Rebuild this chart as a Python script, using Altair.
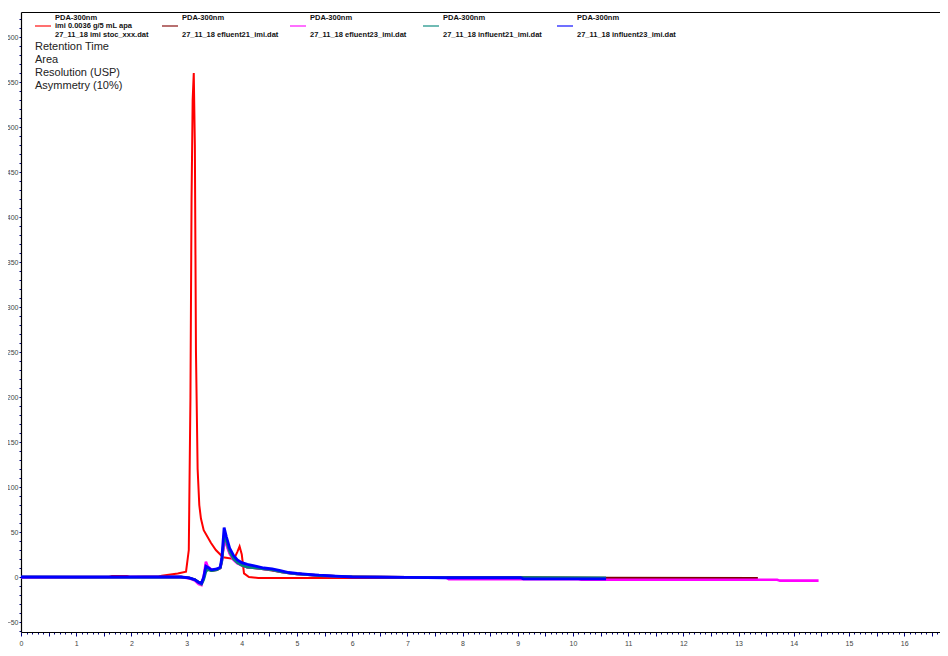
import altair as alt
import pandas as pd

SERIES = [
    "27_11_18 imi stoc_xxx.dat",
    "27_11_18 efluent21_imi.dat",
    "27_11_18 efluent23_imi.dat",
    "27_11_18 influent21_imi.dat",
    "27_11_18 influent23_imi.dat",
]
LEGEND_HEAD = ["PDA-300nm"] * 5
LEGEND_MID = ["imi 0.0036 g/5 mL apa", "", "", "", ""]
COLORS = ["#FF0000", "#800000", "#FF00FF", "#00877A", "#0000FF"]
WIDTHS = [2.0, 2.6, 2.6, 2.6, 2.8]

# red: imi stoc
stoc_t = [0, 1.0, 1.6, 1.65, 1.92, 1.97, 2.5, 2.55, 2.84, 2.99, 3.04, 3.07, 3.09, 3.11, 3.13,
          3.15, 3.17, 3.2, 3.23, 3.26, 3.31, 3.44, 3.53, 3.66, 3.86, 3.92, 3.96, 4.0, 4.04,
          4.13, 4.3, 8.0]
stoc_v = [0, 0, 0, 1, 1, 0, 0.5, 1.5, 4, 6, 30, 200, 420, 530, 560,
          480, 250, 120, 80, 65, 52, 38, 30, 22, 20, 28, 34, 25, 4,
          0, -1, -1]

# shared time points of the sample runs around the peak
peak_t = [0, 1.0, 2.0, 2.9, 3.05, 3.15, 3.22, 3.27, 3.31, 3.35, 3.38, 3.45, 3.55, 3.61, 3.64,
          3.68, 3.72, 3.78, 3.85, 3.92, 4.0, 4.1, 4.25, 4.4, 4.55, 4.7, 4.85, 5.0, 5.2, 5.4,
          5.7, 6.0, 7.0, 7.7]

eff21_v = [0, 0, 0, 0, -1, -3, -6, -7, -1, 10, 9, 7, 8, 10, 19,
           42, 38, 27, 20, 16, 13, 11, 10, 9, 7.5, 6, 4.5, 3.5, 2.5, 1.5,
           0.8, 0.3, -0.3, -0.5]
eff21_tail_t = [9.1, 10.6, 13.35]
eff21_tail_v = [-0.5, -1.2, -1.5]

eff23_v = [-0.5, -0.5, 0, 0, -1.5, -4, -8, -9, 0, 17, 12, 8, 9, 10, 18,
           40, 36, 26, 19, 15, 13, 11, 10, 9, 8, 6, 4.5, 3.5, 2.5, 1.5,
           0.8, 0.3, -0.3, -0.5]
eff23_tail_t = [7.75, 10.1, 10.15, 13.7, 13.75, 14.45]
eff23_tail_v = [-2.5, -2.5, -3, -3, -4, -4]

inf21_v = [0, -0.3, -0.3, 0, -1, -3, -6, -8, -3, 6, 8, 7, 8, 10, 18,
           46, 40, 28, 20, 16, 13, 11, 10, 9, 8, 6, 4.5, 3.5, 2.5, 1.5,
           0.8, 0.3, -0.3, -0.5]
inf21_tail_t = [9.1, 10.6]
inf21_tail_v = [-0.6, -0.8]

inf23_v = [0, 0, 0, 0, -1, -3, -6, -7, 0, 12, 11, 8, 9, 11, 22,
           55, 45, 32, 24, 19, 16, 14, 12, 10, 9, 7, 5, 4, 3, 2,
           1, 0, -0.5, -0.8]
inf23_tail_t = [9.05, 9.1, 10.6]
inf23_tail_v = [-0.8, -2, -2]

ANNOT = ["Retention Time", "Area", "Resolution (USP)", "Asymmetry (10%)"]

series_data = [
    (stoc_t, stoc_v),
    (peak_t + eff21_tail_t, eff21_v + eff21_tail_v),
    (peak_t + eff23_tail_t, eff23_v + eff23_tail_v),
    (peak_t + inf21_tail_t, inf21_v + inf21_tail_v),
    (peak_t + inf23_tail_t, inf23_v + inf23_tail_v),
]

FONT = "Liberation Sans"
xscale = alt.Scale(domain=[0, 16.65], nice=False, zero=False)
yscale = alt.Scale(domain=[-61.1, 627.8], nice=False, zero=False)

x_axis = alt.Axis(
    values=[i / 10 for i in range(0, 167)],
    labelExpr="datum.value % 1 === 0 ? format(datum.value, 'd') : ''",
    labelOverlap=False, labelFlush=False,
    tickSize={"condition": {"test": "datum.value % 0.5 === 0", "value": 4}, "value": 2},
    tickColor="#000080", domainColor="#000000", domainWidth=1.2,
    labelFont=FONT, labelFontSize=7, labelColor="#444444", labelPadding=3,
    title="Minutes", titleFont=FONT, titleFontSize=7, titleFontWeight="normal",
    titleColor="#444444", titlePadding=2, grid=False,
)
y_axis = alt.Axis(
    values=list(range(-60, 630, 10)),
    labelExpr="datum.value % 50 === 0 ? format(datum.value, 'd') : ''",
    labelOverlap=False, labelFlush=False,
    tickSize=2,
    tickColor="#000080", domainColor="#000000", domainWidth=1.2,
    labelFont=FONT, labelFontSize=7, labelColor="#444444", labelPadding=1,
    title=None, grid=False,
)

layers = []
for i, (name, (ts, vs)) in enumerate(zip(SERIES, series_data)):
    df = pd.DataFrame({"t": ts, "v": vs})
    layers.append(
        alt.Chart(df).mark_line(strokeWidth=WIDTHS[i], color=COLORS[i], clip=True).encode(
            x=alt.X("t:Q", scale=xscale, axis=x_axis if i == 0 else None),
            y=alt.Y("v:Q", scale=yscale, axis=y_axis),
            order="t:Q",
        )
    )

top = alt.Chart(pd.DataFrame({"t": stoc_t, "v": stoc_v})).mark_line(opacity=0).encode(
    x=alt.X("t:Q", scale=xscale,
            axis=alt.Axis(orient="top", labels=False, ticks=False, title=None,
                          domainColor="#000000", domainWidth=1.2, grid=False)),
    y=alt.Y("v:Q", scale=yscale, axis=y_axis),
)

# hand-built legend (one entry per series)
blank = alt.Data(values=[{}])
LEG_SWATCH_X = [14, 141, 269, 402, 536]
legend_layers = []
for i in range(5):
    sx = LEG_SWATCH_X[i]
    legend_layers.append(
        alt.Chart(blank).mark_rule(color=COLORS[i], strokeWidth=1.5, opacity=0.75).encode(
            x=alt.value(sx), x2=alt.value(sx + 16), y=alt.value(14)))
    lines = [(LEGEND_HEAD[i], 6), (LEGEND_MID[i], 14), (SERIES[i], 23)]
    for txt, yy in lines:
        if not txt:
            continue
        legend_layers.append(
            alt.Chart(blank).mark_text(
                text=txt, align="left", baseline="middle", fontSize=7.5,
                fontWeight="bold", font=FONT, color="#111111",
            ).encode(x=alt.value(sx + 20), y=alt.value(yy)))

annot = alt.Chart(blank).mark_text(
    text=ANNOT, align="left", baseline="top", fontSize=11, lineHeight=13,
    font=FONT, color="#222222",
).encode(x=alt.value(14), y=alt.value(29))

chart = alt.layer(top, *layers, *legend_layers, annot).resolve_axis(
    x="independent", y="shared"
).properties(
    width=919, height=620,
    padding={"left": 13, "top": 4, "right": 0, "bottom": 16},
    autosize=alt.AutoSizeParams(type="none"),
).configure_view(stroke=None)

chart.save("out.html", embed_options={"renderer": "svg", "actions": False})
